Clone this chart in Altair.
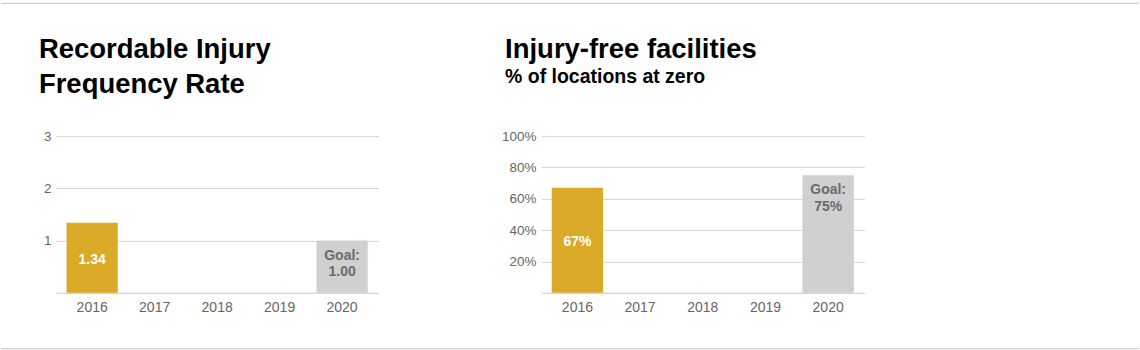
import altair as alt
import pandas as pd

# ---- data ----
years = ["2016", "2017", "2018", "2019", "2020"]
bar_years = ["2016", "2020"]
bar_kind = ["Actual", "Goal"]

rate_values = [1.34, 1.00]
rate_labels = ["1.34", "Goal:\n1.00"]
rate_ticks = [1, 2, 3]

facility_values = [0.67, 0.75]
facility_labels = ["67%", "Goal:\n75%"]
facility_ticks = [0.2, 0.4, 0.6, 0.8, 1.0]

FONT = "Liberation Sans"
GOLD = "#DAAA28"
GREY = "#D0D0D0"
GOAL_TEXT = "#6b6b6b"
AXIS_TEXT = "#666666"


def panel(values, labels, ticks, domain_max, fmt, title_lines, title_size,
          subtitle, title_dx, width, borders=False):
    df = pd.DataFrame({"year": bar_years, "value": values,
                       "label": labels, "kind": bar_kind})
    base = alt.Chart(df)
    xscale = alt.Scale(domain=years, paddingInner=0.18, paddingOuter=0.17)
    yscale = alt.Scale(domain=[0, domain_max], nice=False)
    xaxis = alt.Axis(title=None, labelAngle=0, ticks=False,
                     domainColor="#c8c8c8", labelPadding=8,
                     labelFontSize=14, labelColor=AXIS_TEXT,
                     labelFont=FONT, grid=False)
    yaxis = alt.Axis(title=None, values=ticks, grid=True, domain=False,
                     ticks=False, labelPadding=5, labelFontSize=13.5,
                     labelColor=AXIS_TEXT, labelFont=FONT, labelOverlap=False,
                     gridColor="#d6d6d6", format=fmt)
    bars = base.mark_bar().encode(
        x=alt.X("year:N", scale=xscale, axis=xaxis),
        y=alt.Y("value:Q", scale=yscale, axis=yaxis),
        color=alt.Color("kind:N", scale=alt.Scale(domain=bar_kind,
                                                  range=[GOLD, GREY]),
                        legend=None))
    actual_text = base.transform_filter(alt.datum.kind == "Actual")\
        .transform_calculate(mid="datum.value / 2")\
        .mark_text(color="white", fontWeight="bold", fontSize=14, font=FONT,
                   baseline="middle", dy=2)\
        .encode(x=alt.X("year:N", scale=xscale, axis=xaxis),
                y=alt.Y("mid:Q", scale=yscale, axis=yaxis),
                text="label:N")
    goal_text = base.transform_filter(alt.datum.kind == "Goal")\
        .mark_text(color=GOAL_TEXT, fontWeight="bold", fontSize=14, font=FONT,
                   baseline="middle", lineBreak="\n", lineHeight=17, dy=15)\
        .encode(x=alt.X("year:N", scale=xscale, axis=xaxis),
                y=alt.Y("value:Q", scale=yscale, axis=yaxis),
                text="label:N")

    one = pd.DataFrame({"a": [0]})
    layers = [bars, actual_text, goal_text]
    for i, line in enumerate(title_lines):
        layers.append(alt.Chart(one).mark_text(
            align="left", baseline="alphabetic", fontSize=title_size,
            fontWeight="bold", font=FONT, color="black").encode(
            x=alt.value(title_dx), y=alt.value(-78 + 35 * i),
            text=alt.value(line)))
    if subtitle:
        layers.append(alt.Chart(one).mark_text(
            align="left", baseline="alphabetic", fontSize=19.5,
            fontWeight="bold", font=FONT, color="black").encode(
            x=alt.value(title_dx), y=alt.value(-53), text=alt.value(subtitle)))
    if borders:
        for yy in (-133, 213):
            layers.append(alt.Chart(one).mark_rule(
                color="#c4c4c4", strokeWidth=1).encode(
                x=alt.value(-55), x2=alt.value(1085), y=alt.value(yy)))
    return alt.layer(*layers).properties(width=width, height=157)


left = panel(rate_values, rate_labels, rate_ticks, 3, "d",
             ["Recordable Injury", "Frequency Rate"], 27.5, None, -17, 323,
             borders=True)
right = panel(facility_values, facility_labels, facility_ticks, 1, ".0%",
              ["Injury-free facilities"], 27.5, "% of locations at zero",
              -36, 324)

chart = alt.hconcat(left, right, spacing=163, bounds="flush").properties(
    padding={"left": 0, "top": 2, "right": 0, "bottom": 1},
    background="white",
).configure_view(stroke=None)

chart.save("out.html", embed_options={"renderer": "svg", "actions": False})
